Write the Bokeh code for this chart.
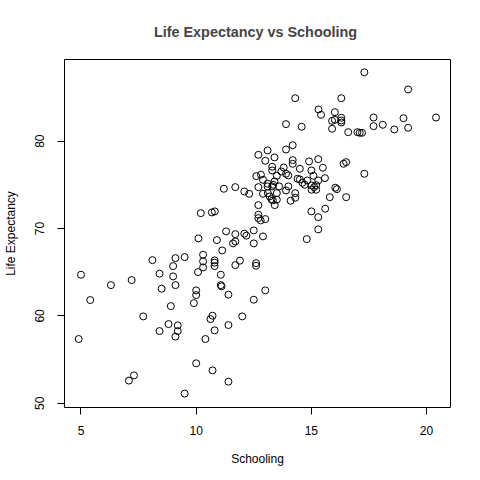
from bokeh.plotting import figure
from bokeh.models import Range1d, FixedTicker
from bokeh.embed import file_html
from bokeh.resources import INLINE

# values
schooling = [
    5.00, 4.90, 5.40, 6.30, 7.20, 7.70, 8.10, 7.08, 7.30, 8.41,
    8.50, 8.41, 9.00, 9.10, 9.00, 9.10, 8.90, 8.80, 9.20, 9.20,
    9.10, 9.50, 9.50, 10.00, 10.00, 9.90, 10.08, 10.30, 10.30, 10.30,
    10.00, 10.71, 10.40, 10.62, 10.71, 10.80, 10.80, 10.80, 10.80, 11.07,
    11.07, 11.10, 11.13, 10.20, 10.68, 10.81, 10.10, 10.90, 11.30, 11.70,
    11.60, 11.70, 12.09, 12.18, 12.50, 12.50, 12.90, 11.90, 11.70, 12.60,
    12.60, 11.40, 13.00, 12.50, 12.00, 11.40, 11.40, 15.00, 15.30, 15.30,
    14.80, 14.10, 14.30, 14.30, 12.70, 12.70, 12.70, 12.80, 13.00, 12.90,
    13.11, 13.19, 13.27, 13.33, 13.41, 13.50, 12.09, 12.30, 11.20, 11.70,
    15.60, 17.30, 19.20, 20.41, 14.30, 16.30, 15.31, 15.42, 16.02, 15.90,
    16.02, 16.30, 16.30, 16.30, 15.90, 13.90, 14.58, 16.60, 17.00, 17.10,
    17.20, 17.70, 17.70, 18.10, 18.60, 19.00, 19.20, 17.30, 16.40, 16.51,
    14.19, 13.90, 13.10, 12.70, 13.00, 13.40, 15.30, 14.90, 15.50, 14.19,
    14.19, 14.50, 15.00, 15.09, 15.59, 15.30, 14.82, 14.71, 15.01, 15.12,
    15.21, 15.01, 15.21, 13.30, 13.30, 13.80, 13.70, 14.00, 13.90, 13.50,
    12.81, 12.61, 12.70, 12.90, 13.10, 13.10, 13.40, 13.30, 13.60, 13.50,
    14.00, 13.90, 14.40, 14.50, 14.61, 15.80, 16.51, 16.04, 16.11, 13.34,
]
life_expectancy = [
    64.71, 57.35, 61.81, 63.52, 64.10, 59.94, 66.38, 52.59, 53.19, 64.83,
    63.11, 58.26, 65.70, 66.61, 64.52, 63.52, 61.12, 59.06, 58.91, 58.26,
    57.62, 66.73, 51.10, 62.92, 62.38, 61.46, 65.01, 67.00, 66.24, 65.55,
    54.57, 53.76, 57.35, 59.63, 60.02, 58.34, 66.35, 66.09, 65.70, 64.71,
    63.52, 63.38, 67.49, 71.76, 71.84, 71.96, 68.87, 68.67, 69.67, 69.36,
    68.30, 68.52, 69.41, 69.18, 69.78, 68.30, 69.10, 66.32, 65.81, 66.04,
    65.74, 62.43, 62.92, 61.85, 59.94, 58.95, 52.47, 71.96, 71.30, 69.90,
    68.79, 73.18, 73.52, 74.05, 72.68, 71.58, 71.19, 70.93, 71.08, 73.98,
    74.05, 73.67, 73.36, 73.22, 72.68, 73.30, 74.24, 73.98, 74.55, 74.74,
    72.27, 87.89, 85.92, 82.71, 84.92, 84.92, 83.63, 83.02, 83.32, 82.33,
    82.45, 82.68, 82.37, 82.14, 81.42, 81.95, 81.65, 81.03, 81.03, 80.96,
    80.96, 82.71, 81.72, 81.88, 81.34, 82.63, 81.53, 76.27, 77.41, 77.60,
    79.54, 79.05, 78.94, 78.44, 77.76, 78.14, 77.94, 77.68, 76.96, 77.83,
    77.41, 76.84, 76.65, 76.04, 75.77, 75.50, 75.50, 75.01, 74.93, 74.74,
    74.97, 74.44, 74.44, 77.07, 76.65, 76.99, 76.53, 76.08, 76.27, 76.04,
    76.16, 76.00, 74.74, 75.58, 75.13, 74.82, 75.39, 74.82, 74.82, 74.05,
    74.82, 74.36, 75.70, 75.62, 75.24, 73.59, 73.59, 74.67, 74.51, 75.01,
]
x_ticks = [5, 10, 15, 20]
y_ticks = [50, 60, 70, 80]

font = "Liberation Sans"

p = figure(width=472, height=472,
           x_range=Range1d(4.284, 21.04), y_range=Range1d(49.51, 89.35),
           title="Life Expectancy vs  Schooling",
           output_backend="svg", toolbar_location=None,
           min_border_left=59, min_border_right=22,
           min_border_top=59, min_border_bottom=65)

p.title.align = "center"
p.title.text_font = font
p.title.text_font_size = "14.4px"
p.title.text_font_style = "bold"
p.title.standoff = 39

p.scatter(schooling, life_expectancy, marker="circle", size=7,
          fill_color=None, line_color="black", line_width=1)

p.xgrid.visible = False
p.ygrid.visible = False
p.outline_line_color = "black"
p.outline_line_width = 1

p.xaxis.axis_label = "Schooling"
p.yaxis.axis_label = "Life Expectancy"
p.xaxis.ticker = FixedTicker(ticks=x_ticks)
p.yaxis.ticker = FixedTicker(ticks=y_ticks)
p.yaxis.major_label_orientation = "vertical"

for ax in (p.xaxis, p.yaxis):
    ax.axis_line_color = None
    ax.minor_tick_line_color = None
    ax.major_tick_in = 0
    ax.major_tick_out = 7
    ax.major_tick_line_color = "black"
    ax.major_label_text_font = font
    ax.major_label_text_font_size = "12px"
    ax.major_label_text_color = "black"
    ax.axis_label_text_font = font
    ax.axis_label_text_font_size = "12px"
    ax.axis_label_text_font_style = "normal"
    ax.axis_label_text_color = "black"

p.xaxis.major_label_standoff = 11
p.xaxis.axis_label_standoff = 14
p.yaxis.major_label_standoff = 13
p.yaxis.axis_label_standoff = 15

open("out.html", "w").write(file_html(p, INLINE))
